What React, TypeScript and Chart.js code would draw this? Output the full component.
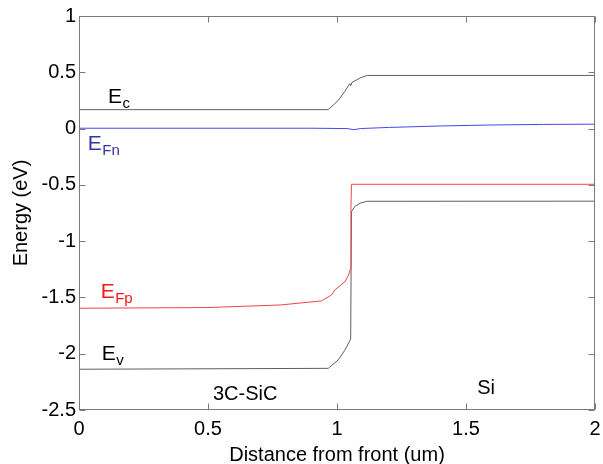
import React, { useEffect, useRef } from "react";
import { Chart, registerables } from "chart.js";

Chart.register(...registerables);

// ---- data ----
const ecX = [0, 0.966, 1.005, 1.03, 1.05, 1.053, 1.058, 1.07, 1.09, 1.117, 2];
const ecY = [0.168, 0.168, 0.25, 0.33, 0.40, 0.38, 0.41, 0.425, 0.45, 0.472, 0.472];

const efnX = [0, 0.9, 1.04, 1.066, 1.09, 1.2, 1.4, 1.6, 1.8, 2];
const efnY = [0.003, 0.003, 0.0, -0.01, 0.0, 0.01, 0.023, 0.032, 0.037, 0.039];

const efpX = [0, 0.5, 0.78, 0.94, 0.979, 0.992, 1.031, 1.045, 1.053, 1.054, 1.056, 2];
const efpY = [-1.596, -1.59, -1.567, -1.531, -1.478, -1.433, -1.36, -1.3, -1.24, -0.72, -0.495, -0.495];

const evX = [0, 0.966, 1.005, 1.03, 1.053, 1.056, 1.07, 1.089, 1.115, 2];
const evY = [-2.138, -2.13, -2.055, -1.97, -1.87, -0.738, -0.69, -0.663, -0.646, -0.645];

const xTickValues = [0, 0.5, 1, 1.5, 2];
const xTickLabels = ["0", "0.5", "1", "1.5", "2"];
const yTickValues = [-2.5, -2, -1.5, -1, -0.5, 0, 0.5, 1];
const yTickLabels = ["-2.5", "-2", "-1.5", "-1", "-0.5", "0", "0.5", "1"];

const xTitle = "Distance from front (um)";
const yTitle = "Energy (eV)";

// band labels: main letter, subscript, anchor in data coordinates
const bandLabelMain = ["E", "E", "E", "E"];
const bandLabelSub = ["c", "Fn", "Fp", "v"];
const bandLabelX = [0.112, 0.034, 0.084, 0.088];
const bandLabelY = [0.227, -0.19, -1.505, -2.055];
const bandLabelColor = ["#000000", "#3434a6", "#f01818", "#000000"];

const regionLabels = ["3C-SiC", "Si"];
const regionLabelX = [0.644, 1.578];
const regionLabelY = [-2.41, -2.36];

const AXIS_COLOR = "#7a7a7a";
const FONT = "Arial, 'Liberation Sans', sans-serif";

const pts = (xs: number[], ys: number[]) => xs.map((x, i) => ({ x, y: ys[i] }));

const decorPlugin = {
  id: "decor",
  afterDraw(chart: any) {
    const { ctx, chartArea, scales } = chart;
    const xs = scales.x;
    const ys = scales.y;
    const l = Math.round(chartArea.left) + 0.5;
    const r = Math.round(chartArea.right) - 0.5;
    const t = Math.round(chartArea.top) + 0.5;
    const b = Math.round(chartArea.bottom) - 0.5;
    ctx.save();
    ctx.strokeStyle = AXIS_COLOR;
    ctx.lineWidth = 1;
    ctx.strokeRect(l, t, r - l, b - t);
    const tl = 6;
    ctx.beginPath();
    xTickValues.forEach((v) => {
      const px = Math.round(xs.getPixelForValue(v)) + 0.5;
      ctx.moveTo(px, b);
      ctx.lineTo(px, b - tl);
      ctx.moveTo(px, t);
      ctx.lineTo(px, t + tl);
    });
    yTickValues.forEach((v) => {
      const py = Math.round(ys.getPixelForValue(v)) + 0.5;
      ctx.moveTo(l, py);
      ctx.lineTo(l + tl, py);
      ctx.moveTo(r, py);
      ctx.lineTo(r - tl, py);
    });
    ctx.stroke();

    ctx.textBaseline = "alphabetic";
    ctx.textAlign = "left";
    bandLabelMain.forEach((m, i) => {
      const px = xs.getPixelForValue(bandLabelX[i]);
      const py = ys.getPixelForValue(bandLabelY[i]);
      ctx.fillStyle = bandLabelColor[i];
      ctx.font = `21px ${FONT}`;
      ctx.fillText(m, px, py);
      const w = ctx.measureText(m).width;
      ctx.font = `15px ${FONT}`;
      ctx.fillText(bandLabelSub[i], px + w + 0.5, py + 5);
    });
    ctx.fillStyle = "#000000";
    ctx.font = `20px ${FONT}`;
    ctx.textAlign = "center";
    regionLabels.forEach((s, i) => {
      ctx.fillText(s, xs.getPixelForValue(regionLabelX[i]), ys.getPixelForValue(regionLabelY[i]));
    });
    ctx.restore();
  },
};

export default function App() {
  const ref = useRef<HTMLCanvasElement | null>(null);
  useEffect(() => {
    if (!ref.current) return;
    const mk = (xs: number[], ys: number[], color: string) => ({
      data: pts(xs, ys),
      borderColor: color,
      backgroundColor: color,
      borderWidth: 1,
      pointRadius: 0,
      showLine: true,
      fill: false,
      tension: 0,
    });
    const chart = new Chart(ref.current, {
      type: "scatter",
      data: {
        datasets: [
          mk(ecX, ecY, "#5e5e5e"),
          mk(efnX, efnY, "#4646f0"),
          mk(efpX, efpY, "#f04444"),
          mk(evX, evY, "#5e5e5e"),
        ] as any,
      },
      options: {
        animation: false,
        responsive: false,
        maintainAspectRatio: false,
        layout: { padding: { top: 16, right: 8, left: 0, bottom: 0 } },
        plugins: { legend: { display: false }, tooltip: { enabled: false } },
        scales: {
          x: {
            type: "linear",
            min: 0,
            max: 2,
            grid: { display: false, drawTicks: false },
            border: { display: false },
            afterBuildTicks: (s: any) => {
              s.ticks = xTickValues.map((v) => ({ value: v }));
            },
            afterFit: (s: any) => {
              s.height = 54;
              s.paddingLeft = 0;
              s.paddingRight = 0;
            },
            ticks: {
              padding: 7,
              color: "#000",
              font: { family: FONT, size: 20 },
              maxRotation: 0,
              callback: (v: any) => xTickLabels[xTickValues.indexOf(Number(v))] ?? "",
            },
            title: {
              display: true,
              text: xTitle,
              color: "#000",
              font: { family: FONT, size: 20 },
              padding: { top: 0, bottom: -3 },
            },
          },
          y: {
            type: "linear",
            min: -2.5,
            max: 1,
            grid: { display: false, drawTicks: false },
            border: { display: false },
            afterBuildTicks: (s: any) => {
              s.ticks = yTickValues.map((v) => ({ value: v }));
            },
            afterFit: (s: any) => {
              s.width = 79;
              s.paddingTop = 0;
              s.paddingBottom = 0;
            },
            ticks: {
              padding: 3,
              color: "#000",
              font: { family: FONT, size: 20 },
              callback: (v: any) => yTickLabels[yTickValues.indexOf(Number(v))] ?? "",
            },
            title: {
              display: true,
              text: yTitle,
              color: "#000",
              font: { family: FONT, size: 20 },
              padding: { top: 9, bottom: 0 },
            },
          },
        },
      },
      plugins: [decorPlugin],
    });
    return () => chart.destroy();
  }, []);
  return (
    <div style={{ position: "absolute", left: 0, top: 0, width: 603, height: 464, background: "#fff" }}>
      <canvas ref={ref} width={603} height={464} style={{ display: "block" }} />
    </div>
  );
}
